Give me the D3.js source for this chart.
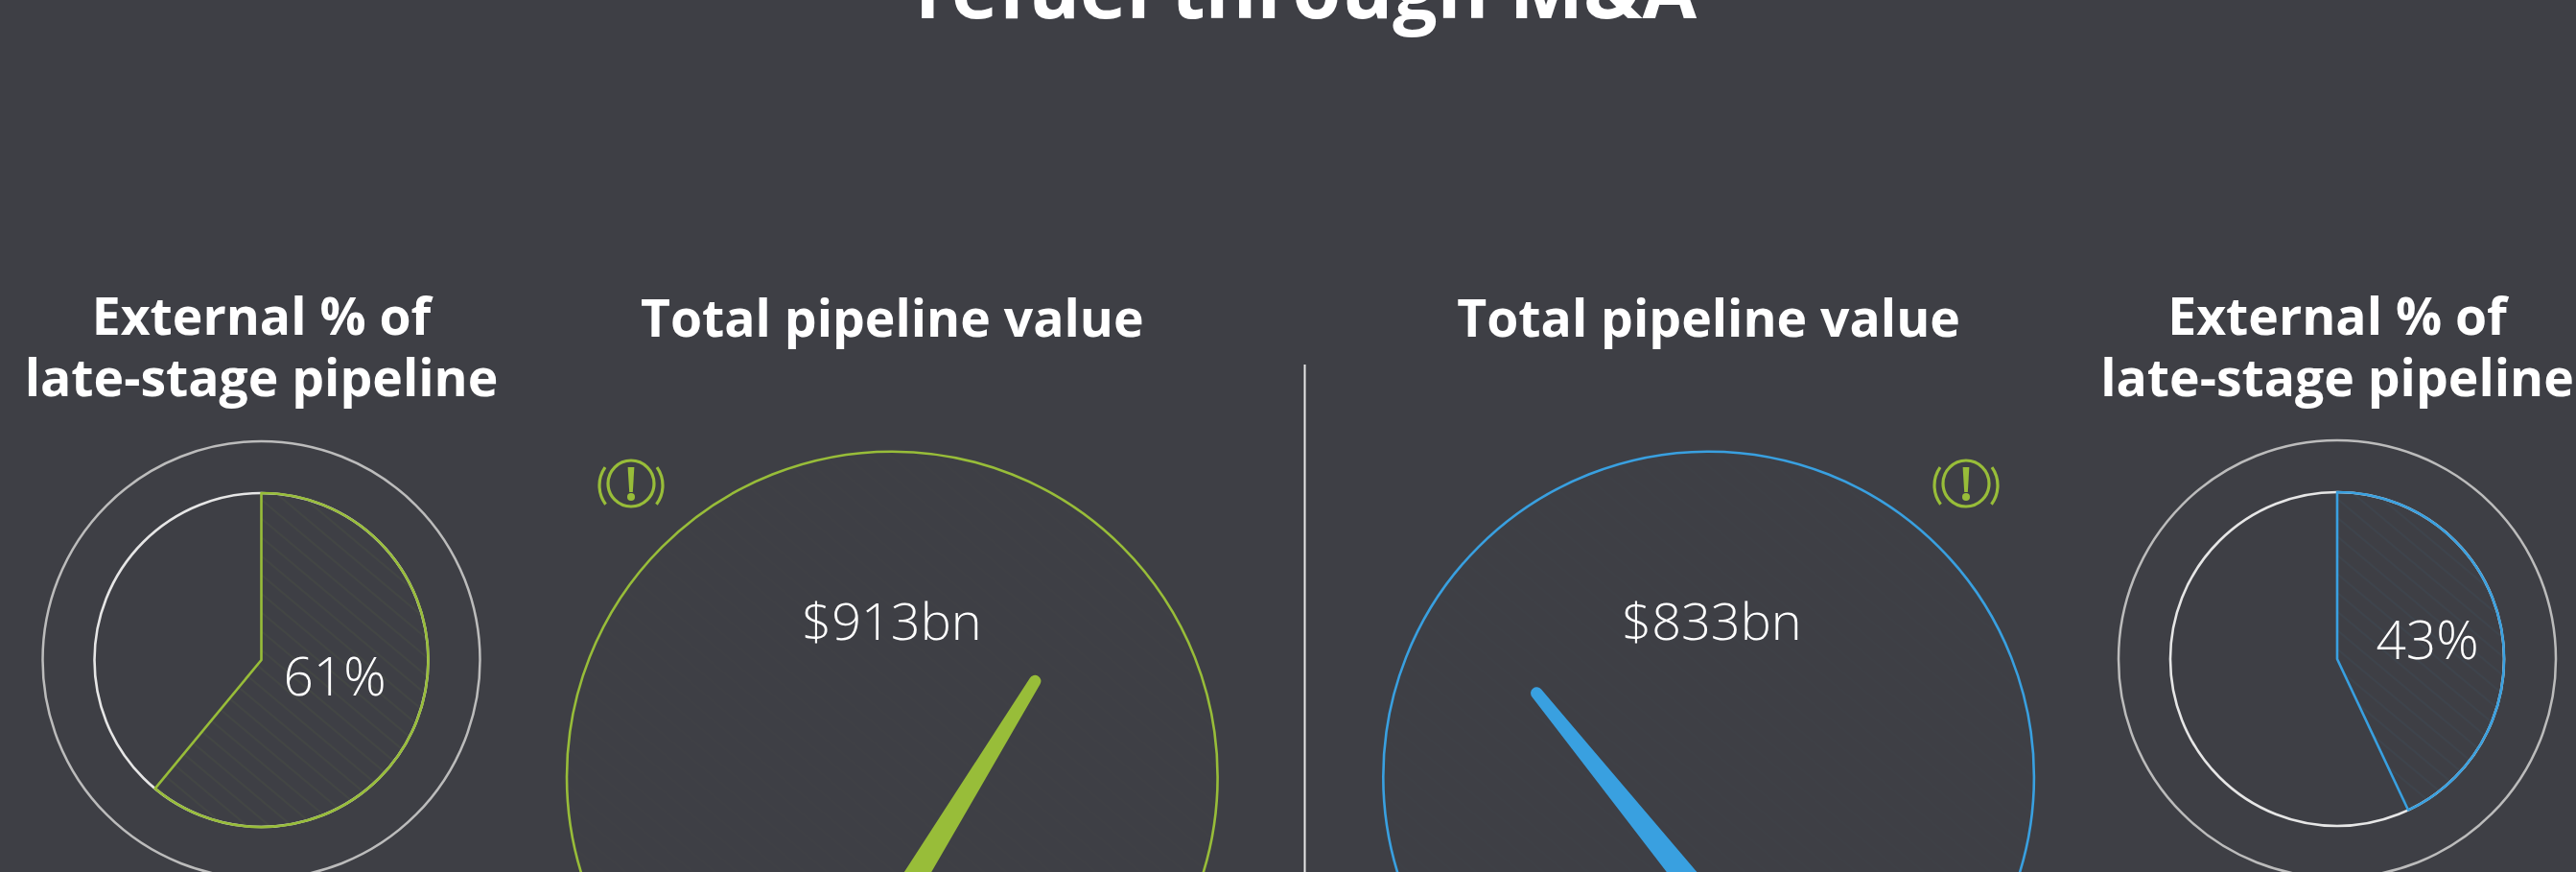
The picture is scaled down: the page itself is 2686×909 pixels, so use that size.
<!DOCTYPE html>
<html><head><meta charset="utf-8">
<script src="https://cdn.jsdelivr.net/npm/d3@7"></script>
<style>html,body{margin:0;padding:0;background:#3e3f45;overflow:hidden}svg{display:block}text{font-family:"Open Sans",sans-serif;fill:#fff}</style>
</head><body><svg id="c" width="2686" height="909"></svg>
<script>
const titleText = "refuel through M&A";
const sideTitle = ["External % of", "late-stage pipeline"];
const gaugeTitle = "Total pipeline value";
const pipelineValues = [913, 833];
const externalShares = [61, 43];
const seriesColors = ["#98bd39", "#39a0e0"];

const W = 2686, H = 909;
const svg = d3.select("#c");
const defs = svg.append("defs");
const addHatch = (id, c, op) => {
  const p = defs.append("pattern").attr("id", id).attr("patternUnits", "userSpaceOnUse")
    .attr("width", 15).attr("height", 15).attr("patternTransform", "rotate(40)");
  p.append("line").attr("x1", 0).attr("x2", 15).attr("y1", 7).attr("y2", 7)
    .attr("stroke", c).attr("stroke-opacity", op).attr("stroke-width", 1);
};
seriesColors.forEach((c, i) => { addHatch("hatch" + i, c, 0.1); addHatch("soft" + i, c, 0.02); });
svg.append("text").attr("x", 1362).attr("y", 18.5).attr("text-anchor", "middle")
  .attr("font-size", 82).attr("font-weight", 700).text(titleText);
svg.append("line").attr("x1", 1360.5).attr("x2", 1360.5).attr("y1", 380).attr("y2", H)
  .attr("stroke", "#e8e8e8").attr("stroke-width", 2);

const share = d3.scaleLinear().domain([0, 100]).range([0, 2 * Math.PI]);
const pies = [{cx: 272.5, cy: 688, i: 0, lx: 349, ly: 725}, {cx: 2437, cy: 687, i: 1, lx: 2531, ly: 687}];
pies.forEach(p => {
  const g = svg.append("g").attr("transform", `translate(${p.cx},${p.cy})`);
  g.append("circle").attr("r", 228).attr("fill", "none").attr("stroke", "#bcbcbc").attr("stroke-width", 2.5);
  g.append("circle").attr("r", 174).attr("fill", "none").attr("stroke", "#e6e6e6").attr("stroke-width", 2.6);
  const a = d3.arc().innerRadius(0).outerRadius(174).startAngle(0).endAngle(share(externalShares[p.i]));
  g.append("path").attr("d", a()).attr("fill", `url(#hatch${p.i})`).attr("stroke", seriesColors[p.i])
    .attr("stroke-width", 2.6).attr("stroke-linejoin", "round");
  svg.append("text").attr("x", p.lx).attr("y", p.ly).attr("text-anchor", "middle").attr("font-size", 55)
    .attr("font-weight", 300).text(externalShares[p.i] + "%");
  sideTitle.forEach((t, k) => svg.append("text").attr("x", p.cx).attr("y", 349 + 64 * k)
    .attr("text-anchor", "middle").attr("font-size", 53.5).attr("font-weight", 700).text(t));
});

const needleAngle = d3.scaleLinear().domain([833, 913]).range([-39, 31.5]);
const gauges = [{cx: 930.3, cy: 810, py: 953, i: 0, lx: 930, ix: 658},
                {cx: 1781.6, cy: 810, py: 944, i: 1, lx: 1785, ix: 2050}];
gauges.forEach(g => {
  const c = seriesColors[g.i];
  svg.append("circle").attr("cx", g.cx).attr("cy", g.cy).attr("r", 339.3).attr("fill", `url(#soft${g.i})`)
    .attr("stroke", c).attr("stroke-width", 2.6);
  svg.append("text").attr("x", g.cx).attr("y", 351).attr("text-anchor", "middle").attr("font-size", 53.5)
    .attr("font-weight", 700).text(gaugeTitle);
  svg.append("text").attr("x", g.lx).attr("y", 667).attr("text-anchor", "middle").attr("font-size", 54)
    .attr("font-weight", 300).text("$" + pipelineValues[g.i] + "bn");
  const len = 285;
  const needle = d3.path();
  needle.moveTo(-13.4, 0); needle.lineTo(-6.2, -len); needle.arc(0, -len, 6.2, Math.PI, 0); needle.lineTo(13.4, 0); needle.closePath();
  svg.append("path").attr("d", needle.toString()).attr("fill", c)
    .attr("transform", `translate(${g.cx},${g.py}) rotate(${needleAngle(pipelineValues[g.i])})`);
  const ic = svg.append("g").attr("transform", `translate(${g.ix},504)`).attr("stroke", seriesColors[0])
    .attr("fill", "none").attr("stroke-width", 3.2).attr("stroke-linecap", "round");
  ic.append("circle").attr("r", 24);
  const wave = d3.arc().innerRadius(33).outerRadius(33);
  ic.append("path").attr("d", wave({startAngle: 0.96, endAngle: 2.21})).attr("transform", "translate(0,2)");
  ic.append("path").attr("d", wave({startAngle: -0.96, endAngle: -2.21})).attr("transform", "translate(0,2)");
  ic.append("path").attr("d", "M-3.4,-17L3.4,-17L1.8,9L-1.8,9Z").attr("fill", seriesColors[0]).attr("stroke", "none");
  ic.append("circle").attr("cy", 14).attr("r", 4).attr("fill", seriesColors[0]).attr("stroke", "none");
});
</script></body></html>
